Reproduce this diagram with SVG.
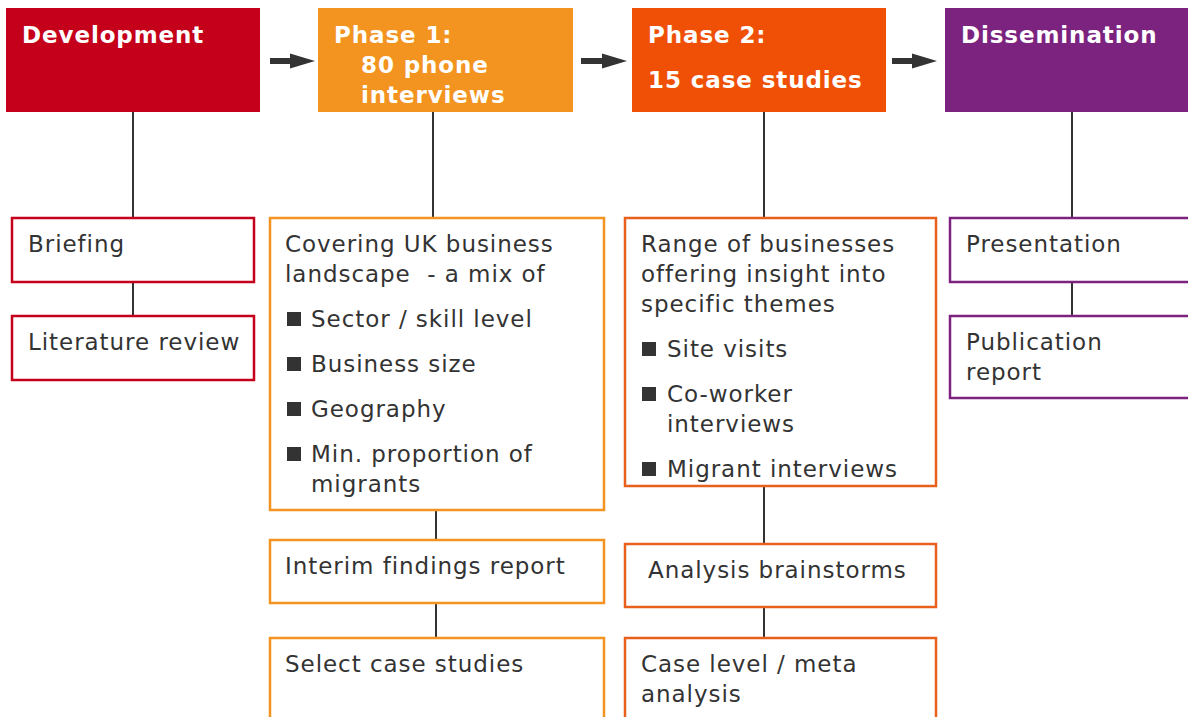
<svg xmlns="http://www.w3.org/2000/svg" width="1188" height="717" viewBox="0 0 1188 717">
<defs>
<style>
.h{font-family:"DejaVu Sans",Verdana,sans-serif;font-weight:bold;font-size:23px;letter-spacing:0.9px;fill:#fff}
.t{font-family:"DejaVu Sans",Verdana,sans-serif;font-size:23px;letter-spacing:0.95px;fill:#333}
.sub{fill:#fff;stroke-width:2.5}
.ln{stroke:#333;stroke-width:2;fill:none}
.bul{fill:#333}
.arr{fill:#333}
</style>
</defs>
<rect width="1188" height="717" fill="#fff"/>
<g id="connectors">
<path class="arr" d="M270,58 H290 V53.5 L315,61 L290,68.5 V64 H270 Z"/>
<path class="arr" d="M581,58 H602 V53.5 L627,61 L602,68.5 V64 H581 Z"/>
<path class="arr" d="M892,58 H912 V53.5 L937,61 L912,68.5 V64 H892 Z"/>
<line class="ln" x1="133" y1="112" x2="133" y2="218"/>
<line class="ln" x1="133" y1="282" x2="133" y2="316"/>
<line class="ln" x1="433" y1="112" x2="433" y2="218"/>
<line class="ln" x1="436" y1="510" x2="436" y2="540"/>
<line class="ln" x1="436" y1="603" x2="436" y2="638"/>
<line class="ln" x1="764" y1="112" x2="764" y2="218"/>
<line class="ln" x1="764" y1="486" x2="764" y2="544"/>
<line class="ln" x1="764" y1="607" x2="764" y2="638"/>
<line class="ln" x1="1072" y1="112" x2="1072" y2="218"/>
<line class="ln" x1="1072" y1="282" x2="1072" y2="316"/>
</g>
<g id="development">
<rect x="6" y="8" width="254" height="104" fill="#C5001A"/>
<text class="h" x="22" y="43">Development</text>
</g>
<g id="phase1">
<rect x="318" y="8" width="255" height="104" fill="#F39320"/>
<text class="h" x="334" y="43">Phase 1:</text>
<text class="h" x="361" y="73">80 phone</text>
<text class="h" x="361" y="103">interviews</text>
</g>
<g id="phase2">
<rect x="632" y="8" width="254" height="104" fill="#F05006"/>
<text class="h" x="648" y="43">Phase 2:</text>
<text class="h" x="648" y="88">15 case studies</text>
</g>
<g id="dissemination">
<rect x="945" y="8" width="250" height="104" fill="#7B237F"/>
<text class="h" x="961" y="43">Dissemination</text>
</g>
<g id="briefing">
<rect class="sub" x="12" y="218" width="242" height="64" stroke="#C5001A"/>
<text class="t" x="28" y="252">Briefing</text>
</g>
<g id="literature">
<rect class="sub" x="12" y="316" width="242" height="64" stroke="#C5001A"/>
<text class="t" x="28" y="350">Literature review</text>
</g>
<g id="covering">
<rect class="sub" x="270" y="218" width="334" height="292" stroke="#F39320"/>
<text class="t" x="285" y="252">Covering UK business</text>
<text class="t" x="285" y="282" xml:space="preserve">landscape  - a mix of</text>
<rect class="bul" x="287" y="312" width="14" height="14"/>
<text class="t" x="311" y="327">Sector / skill level</text>
<rect class="bul" x="287" y="357" width="14" height="14"/>
<text class="t" x="311" y="372">Business size</text>
<rect class="bul" x="287" y="402" width="14" height="14"/>
<text class="t" x="311" y="417">Geography</text>
<rect class="bul" x="287" y="447" width="14" height="14"/>
<text class="t" x="311" y="462">Min. proportion of</text>
<text class="t" x="311" y="492">migrants</text>
</g>
<g id="interim">
<rect class="sub" x="270" y="540" width="334" height="63" stroke="#F39320"/>
<text class="t" x="285" y="574">Interim findings report</text>
</g>
<g id="select">
<rect class="sub" x="270" y="638" width="334" height="90" stroke="#F39320"/>
<text class="t" x="285" y="672">Select case studies</text>
</g>
<g id="range">
<rect class="sub" x="625" y="218" width="311" height="268" stroke="#E8601C"/>
<text class="t" x="641" y="252">Range of businesses</text>
<text class="t" x="641" y="282">offering insight into</text>
<text class="t" x="641" y="312">specific themes</text>
<rect class="bul" x="642" y="342" width="14" height="14"/>
<text class="t" x="667" y="357">Site visits</text>
<rect class="bul" x="642" y="387" width="14" height="14"/>
<text class="t" x="667" y="402">Co-worker</text>
<text class="t" x="667" y="432">interviews</text>
<rect class="bul" x="642" y="462" width="14" height="14"/>
<text class="t" x="667" y="477">Migrant interviews</text>
</g>
<g id="analysis">
<rect class="sub" x="625" y="544" width="311" height="63" stroke="#E8601C"/>
<text class="t" x="648" y="578">Analysis brainstorms</text>
</g>
<g id="caselevel">
<rect class="sub" x="625" y="638" width="311" height="90" stroke="#E8601C"/>
<text class="t" x="641" y="672">Case level / meta</text>
<text class="t" x="641" y="702">analysis</text>
</g>
<g id="presentation">
<rect class="sub" x="950" y="218" width="250" height="64" stroke="#7B237F"/>
<text class="t" x="966" y="252">Presentation</text>
</g>
<g id="publication">
<rect class="sub" x="950" y="316" width="250" height="82" stroke="#7B237F"/>
<text class="t" x="966" y="350">Publication</text>
<text class="t" x="966" y="380">report</text>
</g>
</svg>
